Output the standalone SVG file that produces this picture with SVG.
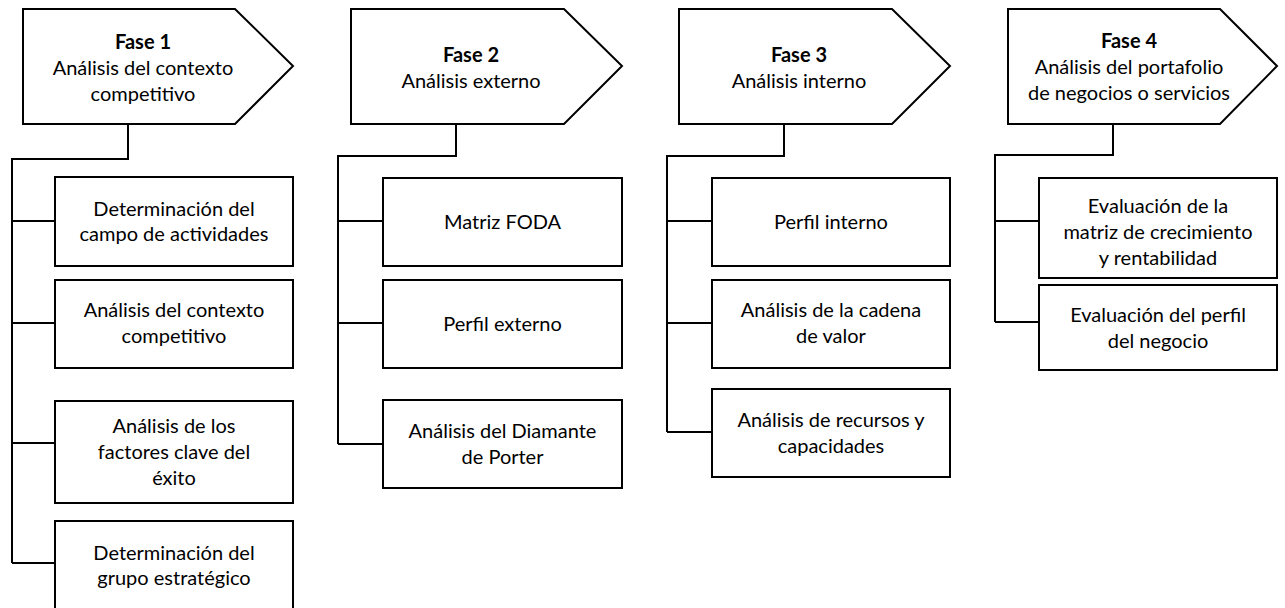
<svg xmlns="http://www.w3.org/2000/svg" width="1285" height="608" viewBox="0 0 1285 608">
<style>
.shape{fill:#fff;stroke:#000;stroke-width:2}
.conn{fill:none;stroke:#000;stroke-width:2}
text{font-family:Lato,"Liberation Sans",sans-serif;font-size:20px;text-anchor:middle;fill:#000}
.b{font-weight:bold}
</style>
<rect width="1285" height="608" fill="#fff"/>
<g id="connectors">
<path class="conn" d="M128,124 V159 H12 V563 M12,221 H55 M12,323 H55 M12,443 H55 M12,563 H55"/>
<path class="conn" d="M456,124 V156 H338 V444 M338,221 H383 M338,323 H383 M338,444 H383"/>
<path class="conn" d="M784,124 V156 H667 V432 M667,221 H712 M667,323 H712 M667,432 H712"/>
<path class="conn" d="M1113,124 V155 H995 V322 M995,221 H1039 M995,322 H1039"/>
</g>
<g id="fase1">
<polygon class="shape" points="23,9 235,9 293,66 235,124 23,124"/>
<text x="143" y="49" class="b">Fase 1</text>
<text x="143" y="75">Análisis del contexto</text>
<text x="143" y="101">competitivo</text>
</g>
<g id="fase2">
<polygon class="shape" points="351,9 564,9 622,66 564,124 351,124"/>
<text x="471" y="62" class="b">Fase 2</text>
<text x="471" y="88">Análisis externo</text>
</g>
<g id="fase3">
<polygon class="shape" points="679,9 892,9 950,66 892,124 679,124"/>
<text x="799" y="62" class="b">Fase 3</text>
<text x="799" y="88">Análisis interno</text>
</g>
<g id="fase4">
<polygon class="shape" points="1008,9 1220,9 1277,66 1220,124 1008,124"/>
<text x="1129" y="48" class="b">Fase 4</text>
<text x="1129" y="74">Análisis del portafolio</text>
<text x="1129" y="100">de negocios o servicios</text>
</g>
<g id="f1-campo">
<rect class="shape" x="55" y="177" width="238" height="89"/>
<text x="174" y="216">Determinación del</text>
<text x="174" y="241">campo de actividades</text>
</g>
<g id="f1-contexto">
<rect class="shape" x="55" y="280" width="238" height="88"/>
<text x="174" y="317">Análisis del contexto</text>
<text x="174" y="343">competitivo</text>
</g>
<g id="f1-factores">
<rect class="shape" x="55" y="401" width="238" height="102"/>
<text x="174" y="433">Análisis de los</text>
<text x="174" y="459">factores clave del</text>
<text x="174" y="485">éxito</text>
</g>
<g id="f1-grupo">
<rect class="shape" x="55" y="521" width="238" height="88"/>
<text x="174" y="560">Determinación del</text>
<text x="174" y="585">grupo estratégico</text>
</g>
<g id="f2-foda">
<rect class="shape" x="383" y="178" width="239" height="88"/>
<text x="502.5" y="229">Matriz FODA</text>
</g>
<g id="f2-perfil">
<rect class="shape" x="383" y="280" width="239" height="88"/>
<text x="502.5" y="331">Perfil externo</text>
</g>
<g id="f2-diamante">
<rect class="shape" x="383" y="400" width="239" height="88"/>
<text x="502.5" y="438">Análisis del Diamante</text>
<text x="502.5" y="464">de Porter</text>
</g>
<g id="f3-perfil">
<rect class="shape" x="712" y="178" width="238" height="88"/>
<text x="831" y="229">Perfil interno</text>
</g>
<g id="f3-cadena">
<rect class="shape" x="712" y="280" width="238" height="88"/>
<text x="831" y="317">Análisis de la cadena</text>
<text x="831" y="343">de valor</text>
</g>
<g id="f3-recursos">
<rect class="shape" x="712" y="389" width="238" height="88"/>
<text x="831" y="427">Análisis de recursos y</text>
<text x="831" y="453">capacidades</text>
</g>
<g id="f4-matriz">
<rect class="shape" x="1039" y="178" width="238" height="100"/>
<text x="1158" y="213">Evaluación de la</text>
<text x="1158" y="239">matriz de crecimiento</text>
<text x="1158" y="265">y rentabilidad</text>
</g>
<g id="f4-perfil">
<rect class="shape" x="1039" y="285" width="238" height="85"/>
<text x="1158" y="322">Evaluación del perfil</text>
<text x="1158" y="348">del negocio</text>
</g>
</svg>
